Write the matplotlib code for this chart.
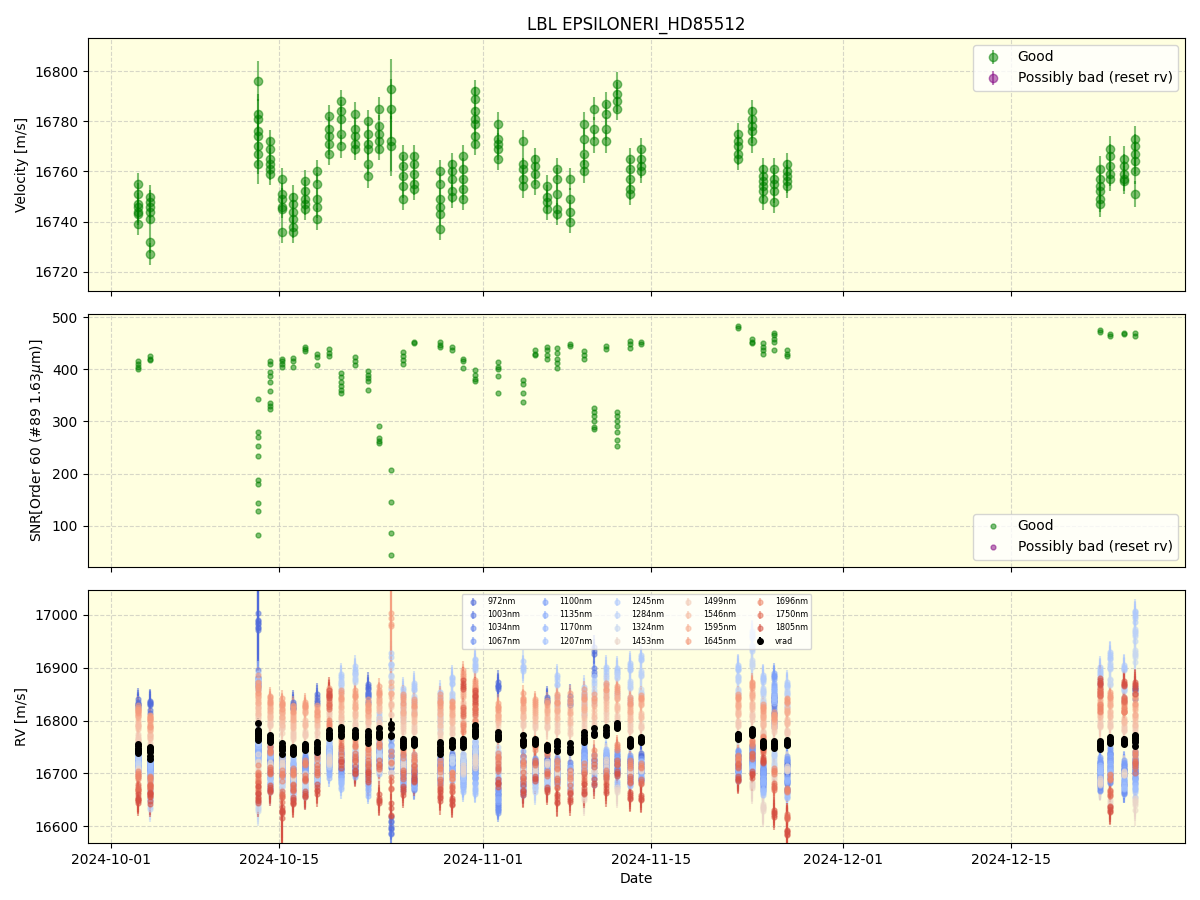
import numpy as np
import pandas as pd
import matplotlib
matplotlib.use("Agg")
import matplotlib.pyplot as plt
import matplotlib.dates as mdates
from matplotlib.colors import Normalize

# observing nights
night_dates = [
    "2024-10-03 06:00", "2024-10-04 06:00", "2024-10-13 06:00", "2024-10-14 06:00",
    "2024-10-15 06:00", "2024-10-16 04:00", "2024-10-17 05:00", "2024-10-18 04:00",
    "2024-10-19 05:00", "2024-10-20 05:00", "2024-10-21 08:00", "2024-10-22 10:00",
    "2024-10-23 09:00", "2024-10-24 08:00", "2024-10-25 08:00", "2024-10-26 06:00",
    "2024-10-28 10:00", "2024-10-29 10:00", "2024-10-30 08:00", "2024-10-31 08:00",
    "2024-11-02 06:00", "2024-11-04 08:00", "2024-11-05 09:00", "2024-11-06 08:00",
    "2024-11-07 05:00", "2024-11-08 07:00", "2024-11-09 10:00", "2024-11-10 07:00",
    "2024-11-11 06:00", "2024-11-12 04:00", "2024-11-13 06:00", "2024-11-14 05:00",
    "2024-11-22 06:00", "2024-11-23 09:00", "2024-11-24 07:00", "2024-11-25 06:00",
    "2024-11-26 07:00", "2024-12-22 09:00", "2024-12-23 06:00", "2024-12-24 10:00",
    "2024-12-25 08:00",
]

# velocity per exposure, grouped by night [m/s]
velocity = [
    [16755, 16751, 16747, 16746, 16744, 16743, 16739],
    [16750, 16748, 16746, 16744, 16741, 16732, 16727],
    [16796, 16783, 16781, 16776, 16774, 16770, 16767, 16763],
    [16772, 16769, 16765, 16763, 16761, 16759],
    [16757, 16751, 16749, 16746, 16745, 16736],
    [16750, 16747, 16744, 16741, 16738, 16736],
    [16756, 16752, 16749, 16747, 16745],
    [16760, 16755, 16749, 16746, 16741],
    [16782, 16777, 16774, 16771, 16767],
    [16788, 16784, 16781, 16775, 16770],
    [16783, 16777, 16774, 16771, 16769],
    [16780, 16775, 16771, 16769, 16763, 16758],
    [16785, 16778, 16775, 16772, 16769],
    [16793, 16785, 16772, 16770],
    [16766, 16762, 16758, 16754, 16749],
    [16766, 16763, 16759, 16755, 16753],
    [16760, 16755, 16749, 16746, 16743, 16737],
    [16763, 16760, 16757, 16752, 16750],
    [16766, 16761, 16757, 16753, 16749],
    [16792, 16789, 16784, 16781, 16779, 16774, 16771],
    [16779, 16773, 16771, 16769, 16765],
    [16772, 16763, 16761, 16757, 16754],
    [16765, 16762, 16759, 16755],
    [16754, 16750, 16748, 16745],
    [16761, 16757, 16751, 16745, 16743],
    [16757, 16749, 16744, 16740],
    [16779, 16773, 16767, 16763, 16760],
    [16785, 16777, 16772],
    [16787, 16783, 16777, 16772],
    [16795, 16791, 16788, 16785],
    [16765, 16761, 16757, 16753, 16751],
    [16769, 16765, 16762, 16760],
    [16775, 16772, 16770, 16767, 16765],
    [16784, 16781, 16778, 16776, 16772],
    [16761, 16758, 16756, 16754, 16752, 16749],
    [16761, 16757, 16755, 16752, 16748],
    [16763, 16760, 16758, 16756, 16754],
    [16761, 16757, 16754, 16752, 16749, 16747],
    [16769, 16766, 16762, 16759, 16757],
    [16765, 16762, 16759, 16757, 16756],
    [16773, 16770, 16767, 16764, 16760, 16751],
]

# typical velocity uncertainty per night [m/s]
vel_err = [4.5, 4.5, 8, 4.5, 4.5, 4.5, 4.5, 4.5, 4.5, 4.5, 4.5, 4.5, 4.5, 12,
           4.5, 4.5, 4.5, 4.5, 4.5, 4.5, 4.5, 4.5, 4.5, 4.5, 4.5, 4.5, 4.5,
           4.5, 4.5, 4.5, 4.5, 4.5, 4.5, 4.5, 4.5, 4.5, 4.5, 5, 5, 5, 5]

# SNR order 60 per exposure, grouped by night
snr = [
    [415, 410, 405, 400], [425, 420, 418],
    [343, 280, 271, 254, 234, 188, 180, 144, 129, 83],
    [416, 410, 394, 387, 375, 359, 336, 330, 324],
    [420, 415, 410, 405], [422, 415, 405], [442, 438, 435], [430, 424, 408],
    [438, 432, 426], [392, 385, 375, 368, 360, 355], [423, 415, 408],
    [396, 390, 383, 378, 360], [291, 268, 262, 258], [207, 146, 87, 45],
    [434, 425, 418, 410], [453, 451], [452, 447, 443], [442, 436],
    [420, 415, 402], [398, 390, 382, 377], [413, 405, 400, 388, 354],
    [380, 372, 354, 338], [437, 430, 427], [443, 436, 428, 420],
    [440, 432, 420, 412, 402], [448, 445], [435, 428, 420],
    [325, 318, 310, 300, 290, 285], [445, 438],
    [318, 310, 300, 292, 280, 265, 253], [455, 448, 440], [453, 449],
    [483, 480], [458, 452, 450], [450, 443, 436, 430],
    [470, 465, 458, 452, 437], [436, 430, 426],
    [476, 471], [468, 463], [469, 467], [469, 464],
]

wavelengths = [972, 1003, 1034, 1067, 1100, 1135, 1170, 1207, 1245, 1284,
               1324, 1453, 1499, 1546, 1595, 1645, 1696, 1750, 1805]
line_err = [22, 20, 18, 18, 18, 17, 17, 18, 22, 25, 28, 30, 22, 18, 16, 16, 18, 20, 25]

# per-band RV offset from vrad, one row per night (columns follow wavelengths)
line_offsets = [
    [85, -30, -25, -35, -20, -30, -15, -40, -10, -25, -35, -45, 20, 45, 65, 75, -50, -75, -95],
    [88, -35, -30, -20, -25, -40, -20, -30, -80, -95, -60, -70, 25, 40, 55, 60, -55, -70, -85],
    [208, 100, -20, -30, -40, -30, -15, -45, 95, -5, -135, -60, 30, 50, 70, 90, -80, -100, -120],
    [-20, -40, -35, -50, -60, -70, -90, -30, -80, -95, -60, -50, 30, 45, 60, 75, -20, -60, -95],
    [-30, -15, -45, -50, -25, -40, -55, -35, -60, -45, -70, -30, 40, 55, 70, 85, -50, -90, -120],
    [85, -40, -50, -60, -30, -55, -70, -20, -75, -85, -60, -45, 30, 50, 65, 80, -40, -70, -95],
    [-25, -40, -35, -55, -20, -45, -60, -75, -85, -90, -70, -55, 25, 45, 70, 80, -30, -60, -90],
    [90, -10, -40, -55, -30, -45, -60, -40, -65, -50, -35, -45, 30, 50, 60, 70, -15, -45, -80],
    [-40, -30, -55, -60, -25, -45, -75, -30, -15, -40, -55, -50, 40, 60, 75, 80, 20, 55, 75],
    [-60, -50, -75, -80, -45, -60, -90, -100, 100, 85, -40, -55, 20, 35, 55, 70, -10, -35, -60],
    [-50, -60, -70, -45, -55, -75, -60, -40, 120, 105, -30, -50, 20, 40, 55, 75, -20, -45, -70],
    [90, 75, -50, -80, -60, -70, -100, -40, -40, -55, -70, -35, 25, 40, 50, 60, -25, -55, -75],
    [-30, -45, -55, -60, -25, -40, -55, -70, 30, -10, -40, -65, 20, 50, 65, 80, -20, -60, -125],
    [-175, -185, -60, -40, -30, -50, -70, -20, 135, 115, 90, -70, 40, 60, 80, 210, -50, -100, -150],
    [-30, -50, -60, -80, -40, -55, -70, -35, 95, 70, 50, -45, 30, 50, 65, 85, -20, -60, -90],
    [-50, -65, -75, -85, -40, -55, -80, -30, 105, 80, 60, -40, 25, 45, 60, 75, -30, -50, -70],
    [-30, -45, -55, -20, -40, -50, -60, -35, 95, 60, 40, -50, 30, 55, 75, 90, -35, -70, -90],
    [-35, -25, -45, -55, -30, -40, -55, -65, 120, 90, -30, -60, 25, 45, 60, 75, -60, -85, -110],
    [-40, -50, -60, -75, -30, -55, -70, -85, -60, -45, -30, -50, 40, 70, 95, 130, 30, 60, 110],
    [-40, -50, -70, -80, -30, -60, -90, -110, 125, -30, -50, -60, 30, 50, 70, 85, 10, 40, 65],
    [95, -110, -130, -140, -100, -120, -90, -80, -60, -40, -30, -50, 10, 30, 40, 55, -40, -60, -90],
    [-40, -60, -80, -95, -30, -50, -70, -90, 140, -45, -60, -55, 35, 50, 65, 80, -40, -70, -95],
    [-45, -55, -60, -40, -35, -60, -70, -80, -75, -90, -60, -50, 30, 45, 60, 75, -10, -40, -70],
    [90, -20, -30, -40, -30, -45, -60, -70, -75, -60, -50, -30, 40, 55, 70, 85, -10, -50, -80],
    [-35, -45, -55, -60, -30, -50, -65, -40, 125, 85, -45, -55, 35, 60, 75, 90, -35, -70, -100],
    [90, -35, -50, -60, -40, -55, -70, -45, -65, -80, -55, -55, 35, 55, 75, 95, -50, -80, -95],
    [-35, -40, -55, -60, -20, -30, -45, -55, 85, 70, 50, -110, 20, 45, 60, 80, -60, -80, -100],
    [155, 115, -50, -60, -60, -80, -95, -50, 100, 80, 60, -70, 20, 35, 55, 65, -40, -60, -95],
    [-50, -60, -70, -80, -45, -60, -75, -40, 115, 95, 70, -60, 30, 50, 70, 85, -80, -90, -110],
    [-60, -70, -80, -85, -50, -65, -90, -110, 105, 95, 60, -120, 15, 35, 55, 70, -40, -70, -90],
    [-40, -55, -70, -35, -30, -45, -60, -75, 145, 110, 80, -50, 30, 50, 65, 80, -40, -70, -100],
    [-30, -50, -60, -75, -40, -55, -70, -45, 155, 125, 90, -55, 25, 45, 70, 80, -50, -80, -110],
    [-40, -50, -60, -70, -30, -45, -60, -80, 130, 110, 85, -45, 25, 45, 60, 75, -40, -55, -80],
    [-30, -45, -55, -60, -35, -50, -65, -70, 185, 160, 130, -100, 30, 50, 70, 90, -20, -45, -80],
    [-50, -60, -70, -80, -40, -55, -70, -90, 125, 100, 80, -120, 20, 40, 55, 70, 10, -10, -30],
    [90, 80, 60, 40, 130, 110, 100, 85, 40, -20, -40, -60, 30, 40, 50, 55, -50, -80, -130],
    [-40, -60, -75, -90, -30, -50, -70, -100, 110, 95, 70, -50, 20, 40, 60, 80, -90, -140, -170],
    [-40, -55, -70, -80, -30, -50, -65, -45, 140, 120, 100, -70, 40, 60, 80, 100, 70, 100, 120],
    [-30, -45, -60, -75, -20, -35, -50, -65, 160, 140, 110, -120, 30, 50, 70, 85, -70, -100, -130],
    [-50, -60, -80, -95, -40, -55, -70, -85, 140, 100, 80, -60, 25, 40, 60, 75, 60, 80, 110],
    [90, -45, -60, -70, -30, -50, -80, -95, 235, 200, 160, -120, 20, 40, 60, 80, -30, -50, 100],
]

# bands with unusually large uncertainties on given nights
wide_night = [2, 13, 4, 36]
wide_line = [0, 15, 18, 18]
wide_err = [80, 300, 60, 50]

times = pd.to_datetime(night_dates)

t_all, v_all, e_all, s_t, s_all = [], [], [], [], []
for i, t in enumerate(times):
    for v in velocity[i]:
        t_all.append(t)
        v_all.append(v)
        e_all.append(vel_err[i])
    for s in snr[i]:
        s_t.append(t)
        s_all.append(s)

fig, axes = plt.subplots(3, 1, figsize=(12, 9), sharex=True)
plt.subplots_adjust(left=0.0733, right=0.9875, bottom=0.0633, top=0.9578, hspace=0.092)

for ax in axes:
    ax.set_facecolor("lightyellow")
    ax.grid(True, linestyle="--", alpha=0.5)

# --- velocity panel
ax = axes[0]
ax.errorbar(t_all, v_all, yerr=e_all, fmt="o", color="green", alpha=0.5,
            markersize=6, elinewidth=1.5, label="Good")
ax.errorbar([], [], yerr=[], fmt="o", color="purple", alpha=0.5,
            markersize=6, elinewidth=1.5, label="Possibly bad (reset rv)")
ax.set_ylabel("Velocity [m/s]")
ax.set_ylim(16712.4, 16813.2)
ax.legend(loc="upper right")
ax.set_title("LBL EPSILONERI_HD85512")

# --- SNR panel
ax = axes[1]
ax.plot(s_t, s_all, "o", color="green", alpha=0.5, markersize=3.5, label="Good")
ax.plot([], [], "o", color="purple", alpha=0.5, markersize=3.5, label="Possibly bad (reset rv)")
ax.set_ylabel(r"SNR[Order 60 (#89 1.63$\mu$m)]")
ax.set_ylim(21.5, 505.7)
ax.legend(loc="lower right")

# --- per-band RV panel
ax = axes[2]
cmap = plt.get_cmap("coolwarm")
norm = Normalize(vmin=900, vmax=1900)
for j, wl in enumerate(wavelengths):
    color = cmap(norm(wl))
    tt, vv, ee = [], [], []
    for i, t in enumerate(times):
        err = line_err[j]
        for n, l, w in zip(wide_night, wide_line, wide_err):
            if n == i and l == j:
                err = w
        for v in velocity[i]:
            tt.append(t)
            vv.append(v + line_offsets[i][j])
            ee.append(err)
    ax.errorbar(tt, vv, yerr=ee, fmt="o", color=color, alpha=0.5,
                markersize=3.5, elinewidth=1.5, label=f"{wl}nm")
ax.errorbar(t_all, v_all, yerr=e_all, fmt="o", color="black",
            markersize=4, elinewidth=1.5, label="vrad")
ax.set_ylabel("RV [m/s]")
ax.set_ylim(16568, 17047)
ax.legend(loc="upper center", ncol=5, fontsize=5.8)
ax.set_xlabel("Date")

ax.xaxis.set_major_locator(mdates.DayLocator(bymonthday=[1, 15]))
ax.xaxis.set_major_formatter(mdates.DateFormatter("%Y-%m-%d"))

fig.savefig("out.png", dpi=100)
